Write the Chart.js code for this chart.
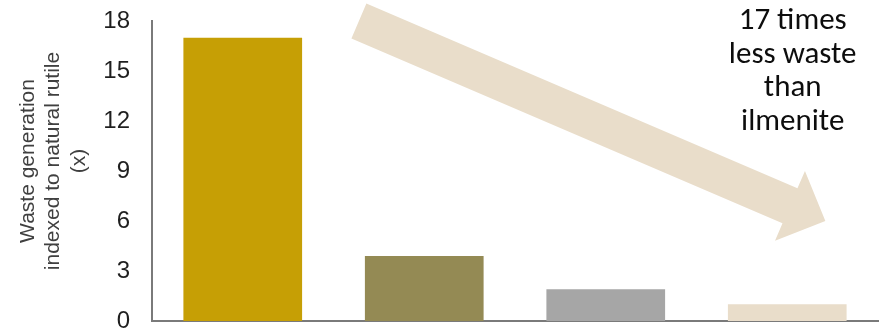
<!DOCTYPE html>
<html>
<head>
<meta charset="utf-8">
<script src="https://cdn.jsdelivr.net/npm/chart.js@4/dist/chart.umd.min.js"></script>
<style>
  html, body { margin: 0; padding: 0; background: #fff; }
  #wrap { width: 880px; height: 331px; }
</style>
</head>
<body>
<div id="wrap"><canvas id="wasteChart"></canvas></div>
<script>
const categories = ["Ilmenite", "Chloride slag", "Synthetic rutile", "Natural rutile"];
const wasteIndex = [17, 3.9, 1.9, 1];
const barColors = ["#C69F05", "#948A54", "#A6A6A6", "#E9DDCA"];
const yTicks = [0, 3, 6, 9, 12, 15, 18];
const yTitle = ["Waste generation", "indexed to natural rutile", "(x)"];
const calloutText = ["17 times", "less waste", "than", "ilmenite"];

// arrow runs from ilmenite down towards natural rutile (x = category index, y = axis value)
const arrowFrom = [0.64, 18.0];
const arrowTo = [3.21, 6.0];
const calloutAt = [3.03, 17.5];

const axisGray = "#7A7A7A";

const annotations = {
  id: "annotations",
  afterDraw(chart) {
    const { ctx, chartArea, scales: { x, y } } = chart;

    // big pointing arrow
    const x0 = x.getPixelForValue(arrowFrom[0]), y0 = y.getPixelForValue(arrowFrom[1]);
    const x1 = x.getPixelForValue(arrowTo[0]), y1 = y.getPixelForValue(arrowTo[1]);
    const len = Math.hypot(x1 - x0, y1 - y0);
    const ux = (x1 - x0) / len, uy = (y1 - y0) / len;
    const nx = -uy, ny = ux;
    const shaft = 19, head = 38, headLen = 38.5;
    const bx = x1 - ux * headLen, by = y1 - uy * headLen;
    ctx.save();
    ctx.fillStyle = "#E9DDCA";
    ctx.beginPath();
    ctx.moveTo(x0 + nx * shaft, y0 + ny * shaft);
    ctx.lineTo(bx + nx * shaft, by + ny * shaft);
    ctx.lineTo(bx + nx * head, by + ny * head);
    ctx.lineTo(x1, y1);
    ctx.lineTo(bx - nx * head, by - ny * head);
    ctx.lineTo(bx - nx * shaft, by - ny * shaft);
    ctx.lineTo(x0 - nx * shaft, y0 - ny * shaft);
    ctx.closePath();
    ctx.fill();

    // callout text
    ctx.fillStyle = "#0D0D0D";
    ctx.font = "31px Carlito, Lato, sans-serif";
    ctx.textAlign = "center";
    ctx.textBaseline = "alphabetic";
    const tx = x.getPixelForValue(calloutAt[0]);
    const ty = y.getPixelForValue(calloutAt[1]);
    calloutText.forEach((line, i) => ctx.fillText(line, tx, ty + i * 33.5));

    // rotated y axis title
    ctx.fillStyle = "#404040";
    ctx.font = "21px 'Liberation Sans', Arial, sans-serif";
    ctx.textBaseline = "middle";
    ctx.translate(chartArea.left - 98.5, (chartArea.top + chartArea.bottom) / 2 - 10);
    ctx.rotate(-Math.PI / 2);
    yTitle.forEach((line, i) => ctx.fillText(line, 0, (i - 1) * 25.5));
    ctx.restore();
  }
};

const wasteChart = new Chart(document.getElementById("wasteChart"), {
  type: "bar",
  data: {
    labels: categories,
    datasets: [
      {
        label: "Waste generation",
        data: wasteIndex,
        backgroundColor: barColors,
        borderWidth: 0,
        categoryPercentage: 1,
        barPercentage: 0.654,
      },
    ],
  },
  options: {
    responsive: true,
    maintainAspectRatio: false,
    animation: false,
    events: [],
    layout: { padding: { top: 21, right: 2, left: 0, bottom: 0 } },
    plugins: {
      legend: { display: false },
      tooltip: { enabled: false },
    },
    scales: {
      x: {
        grid: { display: false, drawTicks: false },
        border: { display: true, color: axisGray, width: 2 },
        ticks: { display: false },
        afterFit(scale) {
          scale.height = 10;
          scale.paddingLeft = 0;
          scale.paddingRight = 0;
        },
      },
      y: {
        min: yTicks[0],
        max: yTicks[yTicks.length - 1],
        grid: { display: false, drawTicks: false },
        border: { display: true, color: axisGray, width: 2 },
        ticks: {
          stepSize: yTicks[1] - yTicks[0],
          padding: 22,
          color: "#1F1F1F",
          font: { family: "'Liberation Sans', Arial, sans-serif", size: 24 },
        },
        afterFit(scale) {
          scale.width = 152;
          scale.paddingTop = 0;
          scale.paddingBottom = 0;
        },
      },
    },
  },
  plugins: [annotations],
});
</script>
</body>
</html>
